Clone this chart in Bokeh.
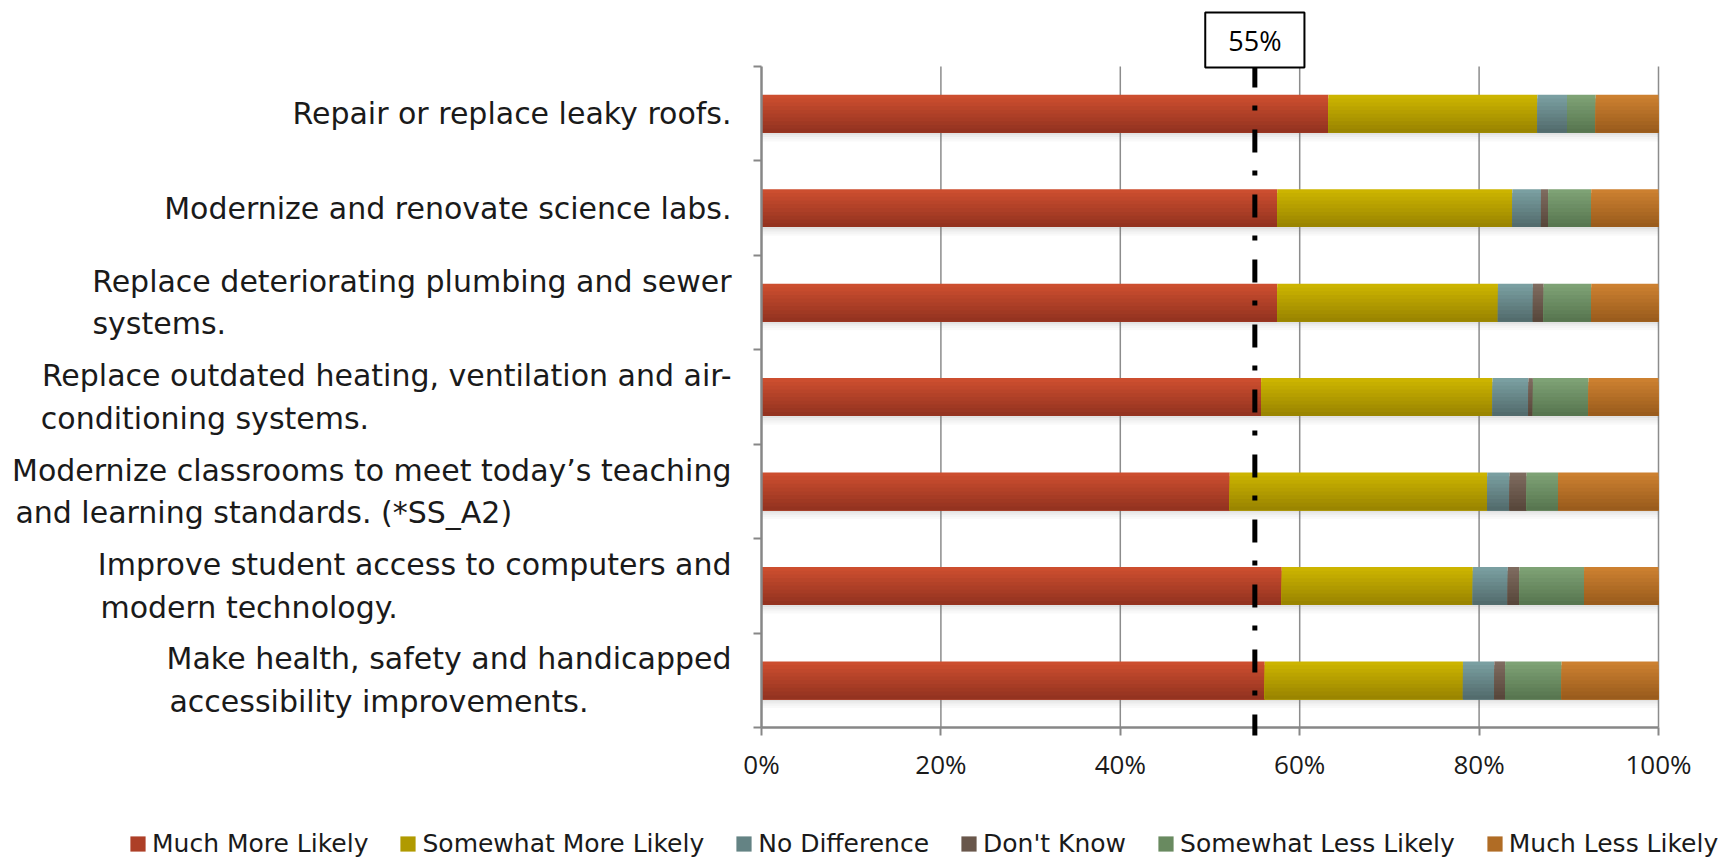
import glob
import numpy as np
from bokeh.plotting import figure
from bokeh.models import (Range1d, FixedTicker, PrintfTickFormatter, Label, Arrow,
                          Legend, LegendItem)
from bokeh.embed import file_html
from bokeh.resources import INLINE

# ---------------- data ----------------
categories = [
    "Repair or replace leaky roofs.",
    "Modernize and renovate science labs.",
    "Replace deteriorating plumbing and sewer\nsystems.",
    "Replace outdated heating, ventilation and air-\nconditioning systems.",
    "Modernize classrooms to meet today\u2019s teaching\nand learning standards. (*SS_A2)",
    "Improve student access to computers and\nmodern technology.",
    "Make health, safety and handicapped\naccessibility improvements.",
]
much_more_likely     = [63.2, 57.5, 57.5, 55.7, 52.2, 58.0, 56.1]
somewhat_more_likely = [23.3, 26.2, 24.6, 25.8, 28.7, 21.3, 22.1]
no_difference        = [3.3, 3.2, 3.9, 4.0, 2.5, 3.9, 3.5]
dont_know            = [0.0, 0.8, 1.2, 0.5, 1.9, 1.3, 1.2]
somewhat_less_likely = [3.2, 4.8, 5.3, 6.2, 3.5, 7.2, 6.3]
much_less_likely     = [7.0, 7.5, 7.5, 7.8, 11.2, 8.3, 10.8]
series_names = ["Much More Likely", "Somewhat More Likely", "No Difference",
                "Don't Know", "Somewhat Less Likely", "Much Less Likely"]
x_ticks = [0, 20, 40, 60, 80, 100]
threshold = 55
threshold_label = "55%"

# ---------------- styles ----------------
top_colors = ["#CC4E2F", "#CCB400", "#7A9FA1", "#7E6B5F", "#7EA275", "#CC8030"]
bottom_colors = ["#943320", "#9A8500", "#536C6D", "#58473B", "#587650", "#9A5C1D"]
LABEL_FONT = "DejaVu Sans"
TICK_FONT = "Open Sans"
LABEL_SIZE = 30

series_values = [much_more_likely, somewhat_more_likely, no_difference,
                 dont_know, somewhat_less_likely, much_less_likely]

n = len(categories)
ypos = np.arange(n)[::-1].astype(float)
bar_h = 0.4

# page geometry (px): the plotting area of the categories
W, H = 1722, 858
AREA_L, AREA_R, AREA_T, AREA_B = 761, 1658, 66, 727
px_per_x = (AREA_R - AREA_L) / 100.0
px_per_unit = (AREA_B - AREA_T) / n
x_start = -AREA_L / px_per_x
x_end = 100 + (W - AREA_R) / px_per_x
y_end = n - 0.5 + AREA_T / px_per_unit
y_start = -0.5 - (H - AREA_B) / px_per_unit

# the frame covers the whole canvas; axes are pinned with fixed_location
p = figure(width=W, height=H, x_range=Range1d(x_start, x_end),
           y_range=Range1d(y_start, y_end),
           output_backend="svg", toolbar_location=None,
           min_border_left=0, min_border_right=0, min_border_top=0, min_border_bottom=0)
p.title.visible = False
p.outline_line_color = None
p.background_fill_color = "white"
p.border_fill_color = "white"
p.xgrid.grid_line_color = None
p.ygrid.grid_line_color = None

# ---- category labels padded so that lines are left aligned in a right-aligned block
font_obj = None
try:
    from PIL import ImageFont
    paths = glob.glob("/usr/share/fonts/**/DejaVuSans.ttf", recursive=True)
    if paths:
        font_obj = ImageFont.truetype(paths[0], LABEL_SIZE)
except Exception:
    font_obj = None

def pad_label(txt):
    lines = txt.split("\n")
    if font_obj is None or len(lines) == 1:
        return txt
    wmax = max(font_obj.getlength(l) for l in lines)
    nb = font_obj.getlength("\u00a0") or 9.5
    out = []
    for l in lines:
        k = int(round((wmax - font_obj.getlength(l)) / nb))
        out.append(l + "\u00a0" * k)
    return "\n".join(out)

# axes
p.xaxis.fixed_location = -0.5
p.yaxis.fixed_location = 0
p.xaxis.bounds = (0, 100)
p.yaxis.bounds = (-0.5, n - 0.5)
p.xaxis.ticker = FixedTicker(ticks=x_ticks)
p.xaxis.formatter = PrintfTickFormatter(format="%d%%")
p.yaxis.ticker = FixedTicker(ticks=list(ypos), minor_ticks=list(np.arange(n + 1) - 0.5))
p.yaxis.major_label_overrides = {float(y): pad_label(c) for y, c in zip(ypos, categories)}
for ax in (p.xaxis[0], p.yaxis[0]):
    ax.axis_line_color = "#878787"
    ax.axis_line_width = 2.5
    ax.major_tick_line_color = "#878787"
    ax.major_tick_line_width = 2
    ax.major_tick_out = 8
    ax.major_tick_in = 0
p.xaxis.minor_tick_line_color = None
p.yaxis.major_tick_line_color = None
p.yaxis.minor_tick_line_color = "#878787"
p.yaxis.minor_tick_line_width = 2
p.yaxis.minor_tick_out = 8
p.yaxis.minor_tick_in = 0
p.yaxis.major_label_standoff = 22
p.yaxis.major_label_text_font = LABEL_FONT
p.yaxis.major_label_text_font_size = f"{LABEL_SIZE}px"
p.yaxis.major_label_text_color = "#1a1a1a"
p.yaxis.major_label_text_line_height = 1.22
p.xaxis.major_label_text_font = TICK_FONT
p.xaxis.major_label_text_font_size = "26px"
p.xaxis.major_label_text_color = "#1a1a1a"
p.xaxis.major_label_standoff = 10

# vertical gridlines limited to the category area
p.segment(x0=x_ticks[1:], x1=x_ticks[1:], y0=-0.5, y1=n - 0.5,
          line_color="#8c8c8c", line_width=1.5)

# shadows under bars
totals = np.sum(np.array(series_values), axis=0)
hs = 2.2 / px_per_unit
for j, a in enumerate([0.20, 0.13, 0.08, 0.04]):
    p.hbar(y=ypos - bar_h / 2 - (j + 0.5) * hs, left=0, right=totals, height=hs,
           fill_color="#6f6f6f", fill_alpha=a, line_color=None)

# stacked bars with vertical gradient (overlapping strips, top to bottom)
def hex2rgb(h):
    h = h.lstrip("#")
    return np.array([int(h[i:i + 2], 16) for i in (0, 2, 4)], dtype=float)

def rgb2hex(c):
    return "#%02x%02x%02x" % tuple(int(round(v)) for v in c)

N = 10
lefts = np.zeros(n)
items = []
for s, vals in enumerate(series_values):
    vals = np.array(vals, dtype=float)
    rights = lefts + vals
    c0, c1 = hex2rgb(top_colors[s]), hex2rgb(bottom_colors[s])
    leg_r = None
    for k in range(N):
        t = k / (N - 1)
        col = rgb2hex(c0 + (c1 - c0) * t)
        top = ypos + bar_h / 2 - k * bar_h / N
        bot = ypos - bar_h / 2
        r = p.hbar(y=(top + bot) / 2, left=lefts, right=rights, height=top - bot,
                   fill_color=col, line_color=None)
        if k == N // 2:
            leg_r = r
    items.append(LegendItem(label=series_names[s], renderers=[leg_r]))
    lefts = rights

# threshold line and label
p.add_layout(Arrow(end=None, x_start=threshold, y_start=n - 0.5 + 2 / px_per_unit,
                   x_end=threshold, y_end=-0.5 - 8 / px_per_unit,
                   line_color="black", line_width=5, line_dash="23 18 5 19"))
p.add_layout(Label(x=threshold, y=n - 0.5 + 26.5 / px_per_unit, text=threshold_label,
                   text_align="center", text_baseline="middle",
                   text_font=TICK_FONT, text_font_size="27px", text_color="black",
                   border_line_color="black", border_line_width=2,
                   background_fill_color="white",
                   padding=dict(left=23, right=23, top=9, bottom=9)))

# legend at the bottom of the canvas
legend = Legend(items=items, orientation="horizontal", location=(128, 0),
                glyph_width=19, glyph_height=19, label_standoff=5, spacing=30,
                padding=0, margin=0, border_line_color=None, background_fill_alpha=0,
                label_text_font=LABEL_FONT, label_text_font_size="25px",
                label_text_color="#1a1a1a")
p.add_layout(legend)

open("out.html", "w").write(file_html(p, INLINE))
